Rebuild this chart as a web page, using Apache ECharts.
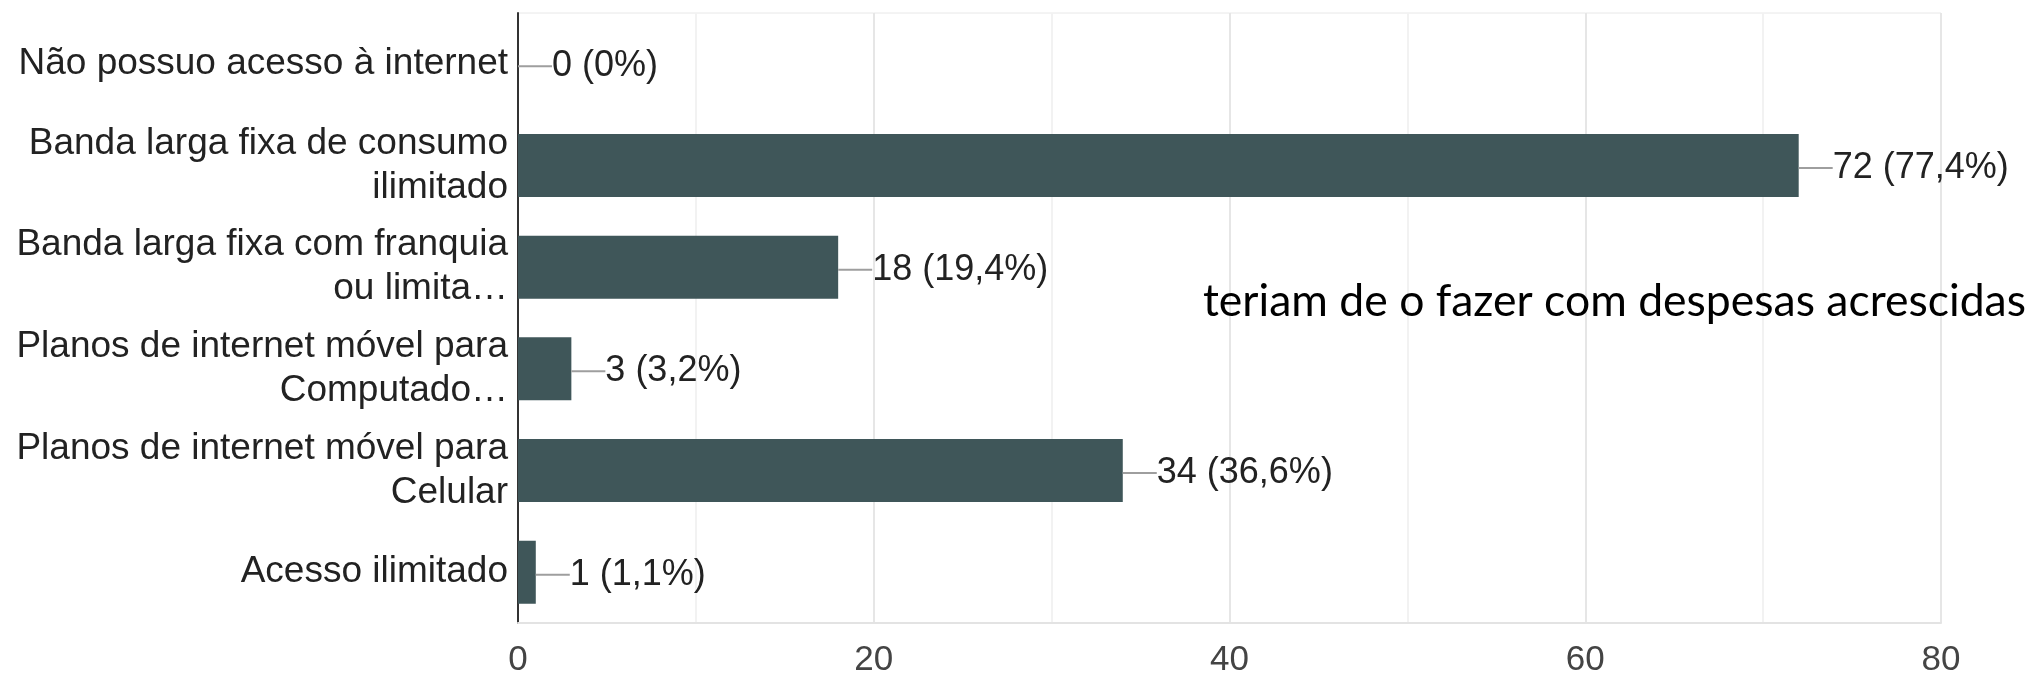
<!DOCTYPE html>
<html>
<head>
<meta charset="utf-8">
<script src="https://cdn.jsdelivr.net/npm/echarts@6/dist/echarts.min.js"></script>
<style>
  html, body { margin: 0; padding: 0; background: #fff; }
  #chart { width: 2033px; height: 678px; }
</style>
</head>
<body>
<div id="chart"></div>
<script>
// respostas (categorias de cima para baixo)
var categories = [
  'Não possuo acesso à internet',
  'Banda larga fixa de consumo\nilimitado',
  'Banda larga fixa com franquia\nou limita…',
  'Planos de internet móvel para\nComputado…',
  'Planos de internet móvel para\nCelular',
  'Acesso ilimitado'
];
var counts = [0, 72, 18, 3, 34, 1];
var percents = ['0%', '77,4%', '19,4%', '3,2%', '36,6%', '1,1%'];
var xTicks = [0, 20, 40, 60, 80];
var note = 'teriam de o fazer com despesas acrescidas';

var fontFamily = '"Liberation Sans", Arial, sans-serif';

var myChart = echarts.init(document.getElementById('chart'));

var option = {
  animation: false,
  backgroundColor: '#fff',
  grid: {
    left: 518,
    right: 92,
    top: 13,
    bottom: 55,
    show: true,
    borderColor: '#e8e8e8',
    borderWidth: 1
  },
  xAxis: {
    type: 'value',
    min: 0,
    max: 80,
    interval: 10,
    axisLine: { show: true, lineStyle: { color: '#e3e3e3', width: 2 } },
    axisTick: { show: false },
    axisLabel: {
      margin: 20,
      fontSize: 35,
      color: '#444',
      fontFamily: fontFamily,
      formatter: function (v) {
        return xTicks.indexOf(v) >= 0 ? String(v) : '';
      }
    },
    splitLine: {
      show: true,
      lineStyle: { color: ['#e6e6e6', '#f2f2f2'], width: 2 }
    }
  },
  yAxis: {
    type: 'category',
    inverse: true,
    data: categories,
    axisLine: { show: true, lineStyle: { color: '#333', width: 2 } },
    axisTick: { show: false },
    axisLabel: {
      margin: 10,
      fontSize: 37,
      lineHeight: 44,
      padding: [8, 0, 0, 0],
      color: '#222',
      align: 'right',
      fontFamily: fontFamily
    }
  },
  series: [
    {
      type: 'bar',
      data: counts,
      barCategoryGap: '38%',
      itemStyle: { color: '#3f5659' },
      label: {
        show: true,
        position: 'right',
        distance: 0,
        fontSize: 36,
        padding: [5, 0, 0, 0],
        color: '#222',
        fontFamily: fontFamily,
        formatter: function (p) {
          return '{ln|}' + counts[p.dataIndex] + ' (' + percents[p.dataIndex] + ')';
        },
        rich: {
          ln: { width: 34, height: 2, backgroundColor: '#9e9e9e' }
        }
      }
    }
  ],
  graphic: [
    {
      type: 'text',
      left: 1203,
      top: 279,
      z: 100,
      style: {
        text: note,
        fontSize: 44.5,
        fontFamily: 'Lato, "Noto Sans", sans-serif',
        fill: '#000'
      }
    }
  ]
};

myChart.setOption(option);
</script>
</body>
</html>
